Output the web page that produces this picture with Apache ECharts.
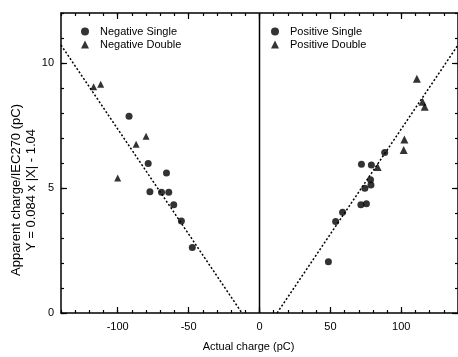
<!DOCTYPE html>
<html>
<head>
<meta charset="utf-8">
<script src="https://cdn.jsdelivr.net/npm/echarts@6/dist/echarts.min.js"></script>
<style>
  html, body { margin: 0; padding: 0; background: #fff; }
  #chart { width: 458px; height: 357px; }
</style>
</head>
<body>
<div id="chart"></div>
<script>
var negSingleX = [-92, -78.5, -65.6, -77.3, -69.1, -64, -60.5, -55.1, -47.4];
var negSingleY = [7.87, 5.98, 5.6, 4.85, 4.83, 4.83, 4.33, 3.68, 2.62];
var negDoubleX = [-117, -112, -100, -87, -80];
var negDoubleY = [9.05, 9.15, 5.4, 6.75, 7.07];
var posSingleX = [48.6, 53.7, 58.6, 71.5, 75.4, 74.3, 78.3, 78.6, 71.9, 78.9, 88.3];
var posSingleY = [2.05, 3.66, 4.03, 4.33, 4.37, 4.99, 5.33, 5.12, 5.95, 5.92, 6.42];
var posDoubleX = [111, 115, 116.5, 102.2, 101.7, 83.3];
var posDoubleY = [9.37, 8.45, 8.25, 6.94, 6.52, 5.84];

// fitted line Y = 0.084 x |X| - 1.04, end points
var fitNegX = [-140, -12.4];
var fitNegY = [10.72, 0];
var fitPosX = [12.4, 140];
var fitPosY = [0, 10.72];
var zeroLineX = [0, 0];
var zeroLineY = [0, 12];

var xLabels = [-100, -50, 0, 50, 100];
var yLabels = [0, 5, 10];

function pairs(xs, ys) {
  var out = [];
  for (var i = 0; i < xs.length; i++) out.push([xs[i], ys[i]]);
  return out;
}

var font = 'Liberation Sans, Arial, sans-serif';

function xAx(pos, major, labels) {
  return {
    type: 'value', position: pos, min: -140, max: 140, interval: 10,
    axisLine: { show: !major, onZero: false, lineStyle: { color: '#000', width: 1.5 } },
    axisTick: major
      ? { inside: true, length: 6, customValues: xLabels, lineStyle: { color: '#000', width: 1.2 } }
      : { inside: true, length: 3, lineStyle: { color: '#000', width: 1.2 } },
    axisLabel: labels
      ? { customValues: xLabels, color: '#000', fontSize: 11, fontFamily: font, margin: 8 }
      : { show: false },
    splitLine: { show: false }
  };
}

function yAx(pos, major, labels) {
  return {
    type: 'value', position: pos, min: 0, max: 12, interval: 1,
    axisLine: { show: !major, onZero: false, lineStyle: { color: '#000', width: 1.5 } },
    axisTick: major
      ? { inside: true, length: 6, customValues: yLabels, lineStyle: { color: '#000', width: 1.2 } }
      : { inside: true, length: 3, lineStyle: { color: '#000', width: 1.2 } },
    axisLabel: labels
      ? { customValues: yLabels, color: '#000', fontSize: 11, fontFamily: font, margin: 7 }
      : { show: false },
    splitLine: { show: false }
  };
}

var chart = echarts.init(document.getElementById('chart'));

var xAxes = [xAx('bottom', false, true), xAx('bottom', true, false), xAx('top', false, false), xAx('top', true, false)];
xAxes[0].name = 'Actual charge (pC)';
xAxes[0].nameLocation = 'middle';
xAxes[0].nameGap = 28;
xAxes[0].nameTextStyle = { color: '#000', fontSize: 11, fontFamily: font, padding: [0, 22, 0, 0] };

var legendText = { color: '#000', fontSize: 11, fontFamily: font, padding: [0, 0, 0, 6] };

var option = {
  animation: false,
  grid: { left: 61, right: -3, top: 13, bottom: 42 },
  legend: [
    {
      data: ['Negative Single', 'Negative Double'],
      orient: 'vertical', left: 81, top: 26, padding: 0,
      itemWidth: 8, itemHeight: 8, itemGap: 2,
      textStyle: legendText
    },
    {
      data: ['Positive Single', 'Positive Double'],
      orient: 'vertical', left: 271, top: 26, padding: 0,
      itemWidth: 8, itemHeight: 8, itemGap: 2,
      textStyle: legendText
    }
  ],
  xAxis: xAxes,
  yAxis: [yAx('left', false, true), yAx('left', true, false), yAx('right', false, false), yAx('right', true, false)],
  graphic: [
    {
      type: 'text', x: 9, y: 190, rotation: Math.PI / 2,
      style: {
        text: 'Apparent charge/IEC270 (pC)\nY = 0.084 x |X| - 1.04',
        fill: '#000', font: '13px ' + font, align: 'center', verticalAlign: 'top', lineHeight: 15
      }
    }
  ],
  series: [
    { name: 'Negative Single', type: 'scatter', symbol: 'circle', symbolSize: 7, itemStyle: { color: '#000' }, data: pairs(negSingleX, negSingleY) },
    { name: 'Negative Double', type: 'scatter', symbol: 'triangle', symbolSize: 7, itemStyle: { color: '#000' }, data: pairs(negDoubleX, negDoubleY) },
    { name: 'Positive Single', type: 'scatter', symbol: 'circle', symbolSize: 7, itemStyle: { color: '#000' }, data: pairs(posSingleX, posSingleY) },
    { name: 'Positive Double', type: 'scatter', symbol: 'triangle', symbolSize: 8, itemStyle: { color: '#000' }, data: pairs(posDoubleX, posDoubleY) },
    { type: 'line', showSymbol: false, silent: true, lineStyle: { color: '#000', width: 1.5, type: [2, 2] }, data: pairs(fitNegX, fitNegY) },
    { type: 'line', showSymbol: false, silent: true, lineStyle: { color: '#000', width: 1.5, type: [2, 2] }, data: pairs(fitPosX, fitPosY) },
    { type: 'line', showSymbol: false, silent: true, lineStyle: { color: '#000', width: 1.5 }, data: pairs(zeroLineX, zeroLineY) }
  ]
};

chart.setOption(option);
</script>
</body>
</html>
